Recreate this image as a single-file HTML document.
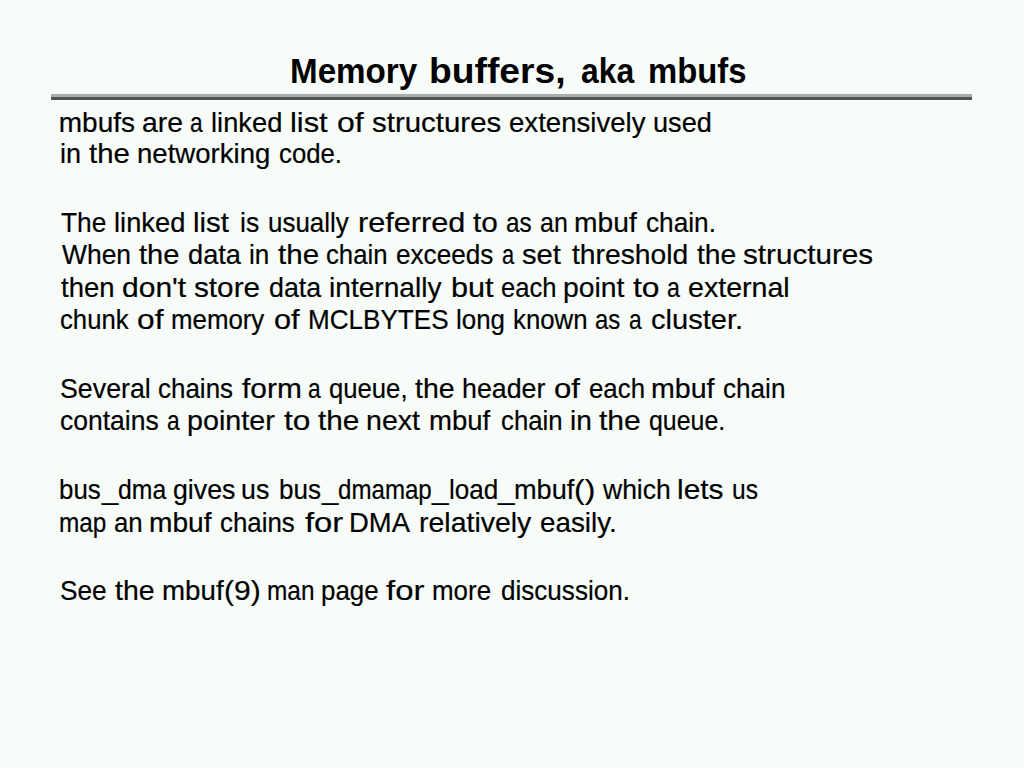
<!DOCTYPE html>
<html><head><meta charset="utf-8">
<style>
html,body{margin:0;padding:0;}
body{width:1024px;height:768px;background:#f7fcf8;position:relative;overflow:hidden;font-family:"Liberation Sans",sans-serif;color:#000;}
.w{position:absolute;white-space:pre;line-height:1;transform-origin:0 0;}
.title{font-weight:bold;font-size:35px;}
.b{font-size:28px;-webkit-text-stroke:0.2px #000;}
.r1{position:absolute;left:51px;top:94px;width:921px;height:3px;background:#a8aeaa;}
.r2{position:absolute;left:51px;top:97px;width:921px;height:3px;background:#515652;}
</style></head><body>
<div class="r1"></div><div class="r2"></div>
<span class="w title" style="left:289.97px;top:53.40px;transform:scaleX(0.9480)">Memory</span>
<span class="w title" style="left:429.41px;top:53.40px;transform:scaleX(1.0642)">buffers,</span>
<span class="w title" style="left:580.89px;top:53.40px;transform:scaleX(0.9096)">aka</span>
<span class="w title" style="left:647.69px;top:53.40px;transform:scaleX(0.9383)">mbufs</span>
<span class="w b" style="left:58.75px;top:108.80px;transform:scaleX(1.0000)">mbufs</span>
<span class="w b" style="left:142.49px;top:108.80px;transform:scaleX(1.0131)">are</span>
<span class="w b" style="left:190.19px;top:108.80px;transform:scaleX(0.8136)">a</span>
<span class="w b" style="left:211.29px;top:108.80px;transform:scaleX(0.9749)">linked</span>
<span class="w b" style="left:290.07px;top:108.80px;transform:scaleX(1.1008)">list</span>
<span class="w b" style="left:336.86px;top:108.80px;transform:scaleX(1.1444)">of</span>
<span class="w b" style="left:371.71px;top:108.80px;transform:scaleX(1.0515)">structures</span>
<span class="w b" style="left:508.51px;top:108.80px;transform:scaleX(0.9855)">extensively</span>
<span class="w b" style="left:652.80px;top:108.80px;transform:scaleX(0.9694)">used</span>
<span class="w b" style="left:59.61px;top:140.30px;transform:scaleX(0.9644)">in</span>
<span class="w b" style="left:89.14px;top:140.30px;transform:scaleX(1.0480)">the</span>
<span class="w b" style="left:136.88px;top:140.30px;transform:scaleX(0.9848)">networking</span>
<span class="w b" style="left:278.78px;top:140.30px;transform:scaleX(0.9200)">code.</span>
<span class="w b" style="left:60.53px;top:209.00px;transform:scaleX(0.9409)">The</span>
<span class="w b" style="left:113.79px;top:209.00px;transform:scaleX(0.9749)">linked</span>
<span class="w b" style="left:192.91px;top:209.00px;transform:scaleX(1.0496)">list</span>
<span class="w b" style="left:240.34px;top:209.00px;transform:scaleX(0.9486)">is</span>
<span class="w b" style="left:267.88px;top:209.00px;transform:scaleX(0.9269)">usually</span>
<span class="w b" style="left:357.58px;top:209.00px;transform:scaleX(1.0952)">referred</span>
<span class="w b" style="left:473.13px;top:209.00px;transform:scaleX(1.0636)">to</span>
<span class="w b" style="left:505.94px;top:209.00px;transform:scaleX(0.8649)">as</span>
<span class="w b" style="left:539.91px;top:209.00px;transform:scaleX(0.8930)">an</span>
<span class="w b" style="left:574.49px;top:209.00px;transform:scaleX(1.0082)">mbuf</span>
<span class="w b" style="left:646.06px;top:209.00px;transform:scaleX(0.9368)">chain.</span>
<span class="w b" style="left:61.50px;top:241.30px;transform:scaleX(0.9441)">When</span>
<span class="w b" style="left:138.74px;top:241.30px;transform:scaleX(1.0400)">the</span>
<span class="w b" style="left:187.53px;top:241.30px;transform:scaleX(0.9720)">data</span>
<span class="w b" style="left:248.87px;top:241.30px;transform:scaleX(0.9315)">in</span>
<span class="w b" style="left:278.14px;top:241.30px;transform:scaleX(1.0560)">the</span>
<span class="w b" style="left:326.28px;top:241.30px;transform:scaleX(0.9191)">chain</span>
<span class="w b" style="left:395.87px;top:241.30px;transform:scaleX(0.9337)">exceeds</span>
<span class="w b" style="left:502.22px;top:241.30px;transform:scaleX(0.7797)">a</span>
<span class="w b" style="left:522.22px;top:241.30px;transform:scaleX(1.0411)">set</span>
<span class="w b" style="left:571.65px;top:241.30px;transform:scaleX(1.0093)">threshold</span>
<span class="w b" style="left:697.05px;top:241.30px;transform:scaleX(1.0107)">the</span>
<span class="w b" style="left:743.01px;top:241.30px;transform:scaleX(1.0590)">structures</span>
<span class="w b" style="left:61.25px;top:274.20px;transform:scaleX(0.9810)">then</span>
<span class="w b" style="left:121.93px;top:274.20px;transform:scaleX(1.0723)">don't</span>
<span class="w b" style="left:193.95px;top:274.20px;transform:scaleX(1.0614)">store</span>
<span class="w b" style="left:269.04px;top:274.20px;transform:scaleX(0.9579)">data</span>
<span class="w b" style="left:329.49px;top:274.20px;transform:scaleX(1.0045)">internally</span>
<span class="w b" style="left:450.58px;top:274.20px;transform:scaleX(1.0946)">but</span>
<span class="w b" style="left:501.09px;top:274.20px;transform:scaleX(0.9138)">each</span>
<span class="w b" style="left:563.23px;top:274.20px;transform:scaleX(1.0128)">point</span>
<span class="w b" style="left:633.47px;top:274.20px;transform:scaleX(1.1364)">to</span>
<span class="w b" style="left:667.37px;top:274.20px;transform:scaleX(0.8271)">a</span>
<span class="w b" style="left:687.98px;top:274.20px;transform:scaleX(1.0212)">external</span>
<span class="w b" style="left:59.58px;top:306.00px;transform:scaleX(0.9180)">chunk</span>
<span class="w b" style="left:137.37px;top:306.00px;transform:scaleX(1.1333)">of</span>
<span class="w b" style="left:170.64px;top:306.00px;transform:scaleX(0.9224)">memory</span>
<span class="w b" style="left:274.10px;top:306.00px;transform:scaleX(1.0978)">of</span>
<span class="w b" style="left:307.70px;top:306.00px;transform:scaleX(0.9315)">MCLBYTES</span>
<span class="w b" style="left:456.38px;top:306.00px;transform:scaleX(0.9253)">long</span>
<span class="w b" style="left:513.39px;top:306.00px;transform:scaleX(0.9213)">known</span>
<span class="w b" style="left:595.39px;top:306.00px;transform:scaleX(0.8559)">as</span>
<span class="w b" style="left:629.19px;top:306.00px;transform:scaleX(0.8136)">a</span>
<span class="w b" style="left:650.66px;top:306.00px;transform:scaleX(1.0393)">cluster.</span>
<span class="w b" style="left:59.80px;top:375.00px;transform:scaleX(0.9565)">Several</span>
<span class="w b" style="left:158.07px;top:375.00px;transform:scaleX(0.9272)">chains</span>
<span class="w b" style="left:242.23px;top:375.00px;transform:scaleX(1.0685)">form</span>
<span class="w b" style="left:308.19px;top:375.00px;transform:scaleX(0.8136)">a</span>
<span class="w b" style="left:329.48px;top:375.00px;transform:scaleX(0.9167)">queue,</span>
<span class="w b" style="left:415.45px;top:375.00px;transform:scaleX(1.0187)">the</span>
<span class="w b" style="left:462.23px;top:375.00px;transform:scaleX(0.9565)">header</span>
<span class="w b" style="left:554.49px;top:375.00px;transform:scaleX(1.1111)">of</span>
<span class="w b" style="left:588.98px;top:375.00px;transform:scaleX(0.9224)">each</span>
<span class="w b" style="left:651.31px;top:375.00px;transform:scaleX(1.0206)">mbuf</span>
<span class="w b" style="left:723.37px;top:375.00px;transform:scaleX(0.9323)">chain</span>
<span class="w b" style="left:60.05px;top:406.70px;transform:scaleX(0.9463)">contains</span>
<span class="w b" style="left:167.19px;top:406.70px;transform:scaleX(0.8136)">a</span>
<span class="w b" style="left:187.41px;top:406.70px;transform:scaleX(1.0251)">pointer</span>
<span class="w b" style="left:283.62px;top:406.70px;transform:scaleX(1.1318)">to</span>
<span class="w b" style="left:317.73px;top:406.70px;transform:scaleX(1.0613)">the</span>
<span class="w b" style="left:365.92px;top:406.70px;transform:scaleX(1.0196)">next</span>
<span class="w b" style="left:428.78px;top:406.70px;transform:scaleX(0.9827)">mbuf</span>
<span class="w b" style="left:500.58px;top:406.70px;transform:scaleX(0.9198)">chain</span>
<span class="w b" style="left:569.85px;top:406.70px;transform:scaleX(1.0027)">in</span>
<span class="w b" style="left:599.33px;top:406.70px;transform:scaleX(1.0747)">the</span>
<span class="w b" style="left:648.81px;top:406.70px;transform:scaleX(0.8900)">queue.</span>
<span class="w b" style="left:59.08px;top:476.00px;transform:scaleX(0.9247)">bus</span>
<span class="w b" style="left:101.62px;top:476.00px;transform:scaleX(1.0424)">_</span>
<span class="w b" style="left:117.82px;top:476.00px;transform:scaleX(0.8841)">dma</span>
<span class="w b" style="left:172.75px;top:476.00px;transform:scaleX(0.9543)">gives</span>
<span class="w b" style="left:241.23px;top:476.00px;transform:scaleX(0.9556)">us</span>
<span class="w b" style="left:278.67px;top:476.00px;transform:scaleX(0.9294)">bus</span>
<span class="w b" style="left:321.62px;top:476.00px;transform:scaleX(1.0485)">_</span>
<span class="w b" style="left:338.04px;top:476.00px;transform:scaleX(0.8607)">dmamap</span>
<span class="w b" style="left:432.03px;top:476.00px;transform:scaleX(1.0667)">_</span>
<span class="w b" style="left:448.67px;top:476.00px;transform:scaleX(0.9313)">load</span>
<span class="w b" style="left:497.73px;top:476.00px;transform:scaleX(1.0606)">_</span>
<span class="w b" style="left:513.80px;top:476.00px;transform:scaleX(0.9695)">mbuf</span>
<span class="w b" style="left:574.10px;top:476.00px;transform:scaleX(1.1410)">()</span>
<span class="w b" style="left:603.40px;top:476.00px;transform:scaleX(0.9462)">which</span>
<span class="w b" style="left:677.33px;top:476.00px;transform:scaleX(1.0659)">lets</span>
<span class="w b" style="left:731.76px;top:476.00px;transform:scaleX(0.8778)">us</span>
<span class="w b" style="left:59.48px;top:508.50px;transform:scaleX(0.8696)">map</span>
<span class="w b" style="left:113.83px;top:508.50px;transform:scaleX(0.9211)">an</span>
<span class="w b" style="left:148.74px;top:508.50px;transform:scaleX(1.0041)">mbuf</span>
<span class="w b" style="left:219.58px;top:508.50px;transform:scaleX(0.9241)">chains</span>
<span class="w b" style="left:304.71px;top:508.50px;transform:scaleX(1.1719)">for</span>
<span class="w b" style="left:349.05px;top:508.50px;transform:scaleX(0.9792)">DMA</span>
<span class="w b" style="left:418.72px;top:508.50px;transform:scaleX(1.0170)">relatively</span>
<span class="w b" style="left:540.01px;top:508.50px;transform:scaleX(0.9939)">easily.</span>
<span class="w b" style="left:59.93px;top:576.70px;transform:scaleX(0.9368)">See</span>
<span class="w b" style="left:115.25px;top:576.70px;transform:scaleX(1.0187)">the</span>
<span class="w b" style="left:161.97px;top:576.70px;transform:scaleX(0.9893)">mbuf</span>
<span class="w b" style="left:223.72px;top:576.70px;transform:scaleX(1.0732)">(9)</span>
<span class="w b" style="left:266.57px;top:576.70px;transform:scaleX(0.8725)">man</span>
<span class="w b" style="left:321.28px;top:576.70px;transform:scaleX(0.9249)">page</span>
<span class="w b" style="left:386.41px;top:576.70px;transform:scaleX(1.1781)">for</span>
<span class="w b" style="left:432.38px;top:576.70px;transform:scaleX(0.9262)">more</span>
<span class="w b" style="left:500.77px;top:576.70px;transform:scaleX(0.9311)">discussion.</span>
</body></html>
